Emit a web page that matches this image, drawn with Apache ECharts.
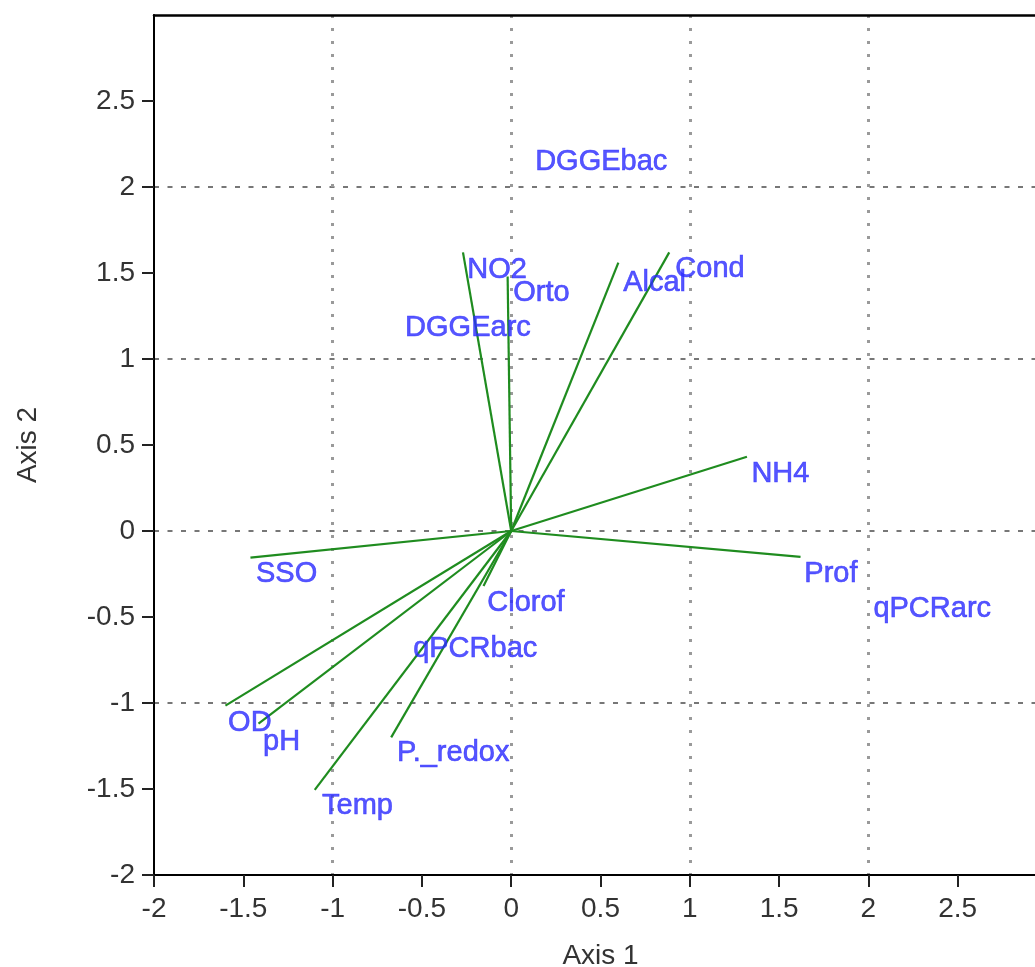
<!DOCTYPE html>
<html>
<head>
<meta charset="utf-8">
<script src="https://cdn.jsdelivr.net/npm/echarts@6/dist/echarts.min.js"></script>
<style>
html,body{margin:0;padding:0;background:#fff;}
#chart{width:1035px;height:967px;}
</style>
</head>
<body>
<div id="chart"></div>
<script>
// Arrow endpoints (variables)
const arrowNames = ['NO2','Orto','Alcal','Cond','NH4','Prof','SSO','OD','pH','Temp','P._redox','Clorof'];
const arrowX = [-0.27, -0.02, 0.60, 0.885, 1.32, 1.62, -1.46, -1.60, -1.415, -1.10, -0.672, -0.155];
const arrowY = [1.62, 1.48, 1.56, 1.62, 0.432, -0.15, -0.155, -1.015, -1.12, -1.505, -1.20, -0.32];

// Label positions (left edge, vertical middle)
const labelNames = ['DGGEbac','NO2','Orto','Alcal','Cond','DGGEarc','NH4','Prof','qPCRarc','SSO','Clorof','qPCRbac','OD','pH','P._redox','Temp'];
const labelX = [0.134, -0.246, 0.011, 0.627, 0.919, -0.594, 1.345, 1.641, 2.028, -1.429, -0.134, -0.549, -1.585, -1.389, -0.639, -1.059];
const labelY = [2.145, 1.515, 1.382, 1.44, 1.521, 1.181, 0.332, -0.252, -0.456, -0.252, -0.421, -0.688, -1.118, -1.229, -1.293, -1.601];

const xTicks = [-2, -1.5, -1, -0.5, 0, 0.5, 1, 1.5, 2, 2.5, 3];
const yTicks = [-2, -1.5, -1, -0.5, 0, 0.5, 1, 1.5, 2, 2.5];

const FONT = '"Liberation Sans", Arial, Helvetica, sans-serif';
const chart = echarts.init(document.getElementById('chart'), null, {renderer: 'canvas'});

const lineData = arrowNames.map((n, i) => ({name: n, coords: [[0, 0], [arrowX[i], arrowY[i]]]}));
const labelData = labelNames.map((n, i) => ({name: n, value: [labelX[i], labelY[i]]}));

chart.setOption({
  animation: false,
  backgroundColor: '#ffffff',
  grid: {left: 154, top: 15, right: -12, bottom: 92, containLabel: false, outerBoundsMode: 'none'},
  xAxis: [{
    type: 'value', min: -2, max: 3, interval: 0.5, position: 'bottom',
    name: 'Axis 1', nameLocation: 'middle', nameGap: 67,
    nameTextStyle: {fontFamily: FONT, fontSize: 28, color: '#333'},
    axisLine: {show: true, onZero: false, lineStyle: {color: '#000', width: 2}},
    axisTick: {show: true, length: 12, inside: false, lineStyle: {color: '#222', width: 2}, customValues: xTicks},
    axisLabel: {fontFamily: FONT, fontSize: 28, color: '#333', margin: 20, customValues: xTicks},
    splitLine: {show: false}
  }, {
    type: 'value', min: -2, max: 3, interval: 1, position: 'top',
    axisLine: {show: true, onZero: false, lineStyle: {color: '#000', width: 2.5}},
    axisTick: {show: false}, axisLabel: {show: false},
    splitLine: {show: true, showMinLine: false, showMaxLine: false, lineStyle: {color: '#9a9a9a', width: 3, type: [3, 10]}}
  }],
  yAxis: [{
    type: 'value', min: -2, max: 3, interval: 0.5, position: 'left',
    name: 'Axis 2', nameLocation: 'middle', nameGap: 112, nameRotate: 90,
    nameTextStyle: {fontFamily: FONT, fontSize: 28, color: '#333'},
    axisLine: {show: true, onZero: false, lineStyle: {color: '#000', width: 2}},
    axisTick: {show: true, length: 12, lineStyle: {color: '#222', width: 2}, customValues: yTicks},
    axisLabel: {fontFamily: FONT, fontSize: 28, color: '#333', margin: 19, customValues: yTicks},
    splitLine: {show: false}
  }, {
    type: 'value', min: -2, max: 3, interval: 1, position: 'right',
    axisLine: {show: false}, axisTick: {show: false}, axisLabel: {show: false},
    splitLine: {show: true, showMinLine: false, showMaxLine: false, lineStyle: {color: '#777', width: 2, type: [5, 8.5]}}
  }],
  series: [{
    type: 'lines', coordinateSystem: 'cartesian2d', xAxisIndex: 0, yAxisIndex: 0,
    data: lineData, symbol: 'none', silent: true, z: 3,
    lineStyle: {color: '#1f8c1f', width: 2.2, opacity: 1}
  }, {
    type: 'scatter', xAxisIndex: 0, yAxisIndex: 0, symbolSize: 0, z: 4,
    data: labelData, silent: true,
    label: {show: true, position: 'right', distance: 0, align: 'left', verticalAlign: 'middle',
      formatter: p => p.name, fontFamily: FONT, fontSize: 29, color: '#2b2bff',
      textBorderColor: '#2b2bff', textBorderWidth: 0.6}
  }]
});
</script>
</body>
</html>
